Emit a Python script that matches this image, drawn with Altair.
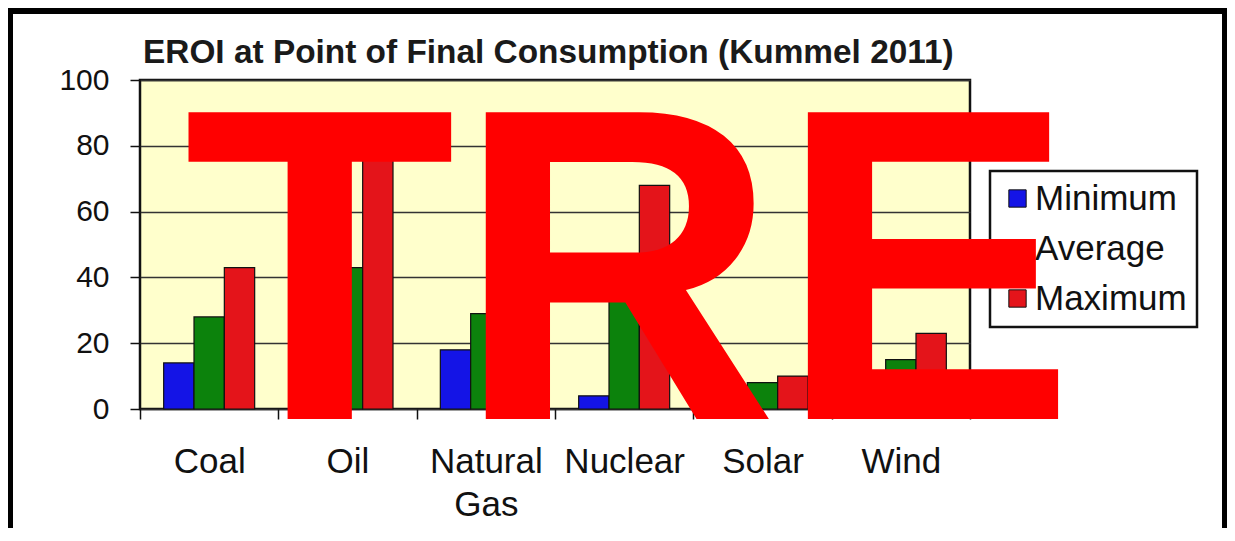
import altair as alt
import pandas as pd

# ---- data ----
CATEGORIES = ["Coal", "Oil", "Natural Gas", "Nuclear", "Solar", "Wind"]
SERIES = ["Minimum", "Average", "Maximum"]
MINIMUM = [14, 6, 18, 4, 6, 7]
AVERAGE = [28, 43, 29, 36, 8, 15]
MAXIMUM = [43, 80, 40, 68, 10, 23]
COLORS = ["#1414E6", "#0C820C", "#E4141A"]
Y_TICKS = [0, 20, 40, 60, 80, 100]
CHART_TITLE = "EROI at Point of Final Consumption (Kummel 2011)"
OVERLAY = "TRE"

rows = []
for i, c in enumerate(CATEGORIES):
    for s, vals in zip(SERIES, [MINIMUM, AVERAGE, MAXIMUM]):
        rows.append({"category": c, "series": s, "value": vals[i]})
df = pd.DataFrame(rows)

FONT = "Liberation Sans"
W, H = 830, 329

bars = alt.Chart(df).mark_bar(stroke="#111111", strokeWidth=1.2).encode(
    x=alt.X(
        "category:N",
        sort=CATEGORIES,
        scale=alt.Scale(paddingInner=0, paddingOuter=0),
        axis=alt.Axis(
            title=None,
            labelAngle=0,
            labelFont=FONT,
            labelFontSize=35,
            labelColor="#111111",
            labelPadding=25,
            labelLineHeight=43,
            labelOverlap=False,
            labelExpr="datum.label == 'Natural Gas' ? ['Natural', 'Gas'] : datum.label",
            tickBand="extent",
            tickSize=10,
            tickColor="#111111",
            tickWidth=1.5,
            domain=False,
            grid=False,
        ),
    ),
    xOffset=alt.XOffset(
        "series:N",
        sort=SERIES,
        scale=alt.Scale(paddingInner=0, paddingOuter=0.78),
    ),
    y=alt.Y(
        "value:Q",
        scale=alt.Scale(domain=[0, 100], nice=False),
        axis=alt.Axis(
            title=None,
            values=Y_TICKS,
            labelFont=FONT,
            labelFontSize=30,
            labelColor="#111111",
            labelPadding=21,
            tickSize=10,
            tickColor="#111111",
            tickWidth=1.5,
            domain=False,
            grid=True,
            gridColor="#333333",
            gridWidth=1.5,
        ),
    ),
    color=alt.Color(
        "series:N",
        sort=SERIES,
        scale=alt.Scale(domain=SERIES, range=COLORS),
        legend=alt.Legend(
            title=None,
            orient="none",
            legendX=850,
            legendY=91,
            fillColor="white",
            strokeColor="#111111",
            padding=10,
            labelFont=FONT,
            labelFontSize=35,
            labelColor="#111111",
            labelOffset=0,
            symbolType="square",
            symbolSize=300,
            symbolStrokeColor="#111111",
            symbolStrokeWidth=1,
            rowPadding=14,
        ),
    ),
)

title_text = alt.Chart(pd.DataFrame({"t": [CHART_TITLE]})).mark_text(
    align="left", baseline="alphabetic", font=FONT, fontSize=33.4,
    fontWeight="bold", color="#1a1a1a"
).encode(text="t:N", x=alt.value(3), y=alt.value(-17))

frame = alt.Chart(pd.DataFrame({"f": [0]})).mark_rect(
    filled=False, stroke="black", strokeWidth=6
).encode(x=alt.value(-130), x2=alt.value(1085), y=alt.value(-69), y2=alt.value(458))

chart = alt.layer(frame, bars, title_text).properties(
    width=W,
    height=H,
    autosize=alt.AutoSizeParams(type="none"),
    padding={"left": 132, "top": 72, "right": 257, "bottom": 119},
    background="white",
    title=alt.TitleParams(
        text=OVERLAY,
        orient="top",
        anchor="start",
        frame="group",
        align="left",
        baseline="alphabetic",
        font=FONT,
        fontWeight="bold",
        fontSize=446,
        color="#FF0000",
        dx=43.5,
        dy=857,
        offset=0,
        zindex=1,
    ),
).configure_view(fill="#FFFFCC", stroke="#111111", strokeWidth=2.5
).configure_legend(strokeWidth=2.5)

chart.save("out.html", embed_options={"renderer": "svg", "actions": False})
